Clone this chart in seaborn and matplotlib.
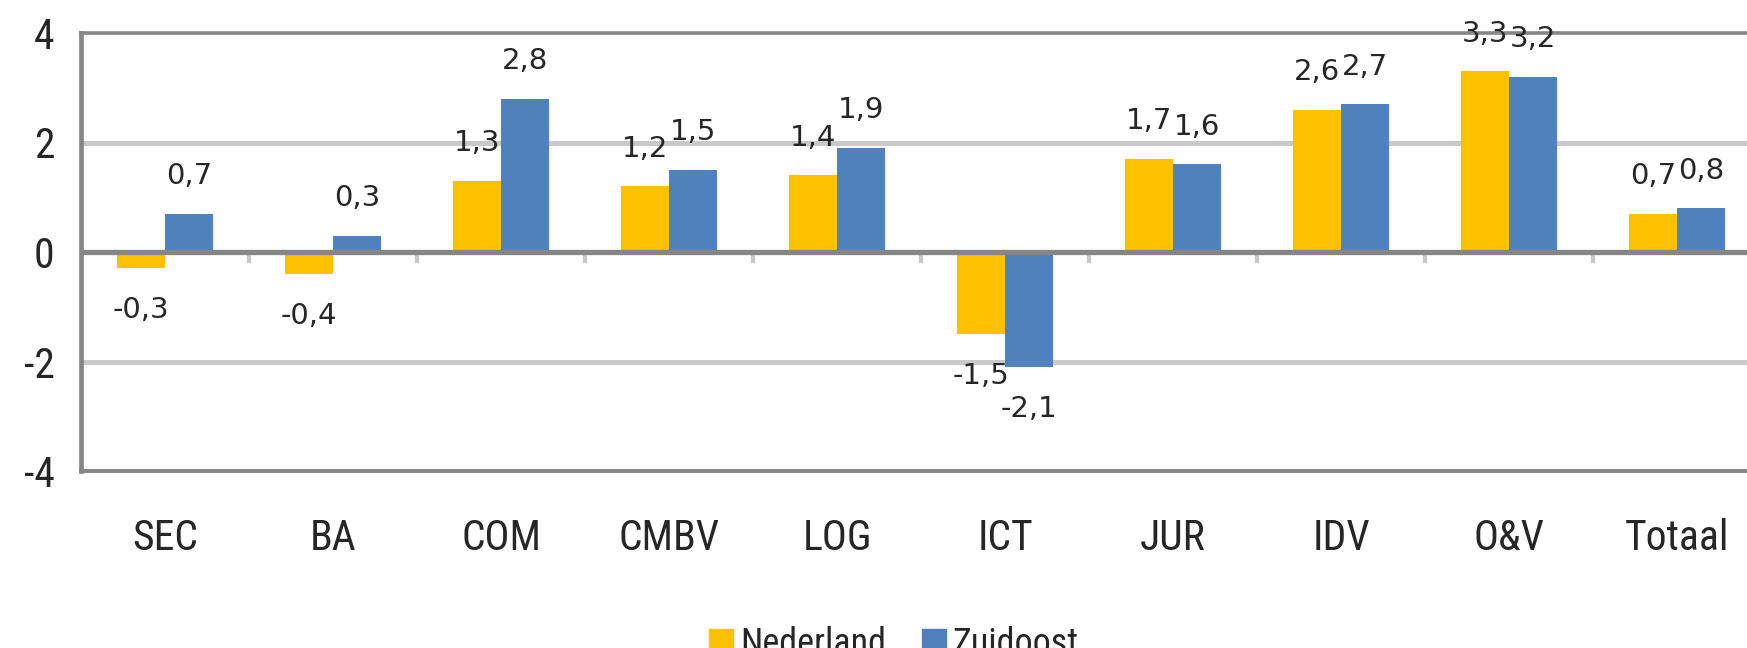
import numpy as np
import pandas as pd
import seaborn as sns
import matplotlib.pyplot as plt

categories = ['SEC', 'BA', 'COM', 'CMBV', 'LOG', 'ICT', 'JUR', 'IDV', 'O&V', 'Totaal']
nederland = [-0.3, -0.4, 1.3, 1.2, 1.4, -1.5, 1.7, 2.6, 3.3, 0.7]
zuidoost = [0.7, 0.3, 2.8, 1.5, 1.9, -2.1, 1.6, 2.7, 3.2, 0.8]
series = ['Nederland', 'Zuidoost']
colors = ['#FFC000', '#4F81BD']
yticks = [-4, -2, 0, 2, 4]

sns.set_style("white")
plt.rcParams['font.family'] = ['Roboto Condensed', 'DejaVu Sans']
plt.rcParams['axes.unicode_minus'] = False

df = pd.DataFrame({
    'cat': categories * 2,
    'value': nederland + zuidoost,
    'serie': [series[0]] * len(categories) + [series[1]] * len(categories),
})

dark = '#868686'
light = '#C9C9C9'

fig = plt.figure(figsize=(17.47, 6.48), dpi=100)
ax = fig.add_axes([81 / 1747, (648 - 471) / 648, 1680 / 1747, 438 / 648])

sns.barplot(data=df, x='cat', y='value', hue='serie', palette=colors,
            width=0.57, gap=0, saturation=1, legend=False, linewidth=0,
            ax=ax, zorder=3)

ax.set_ylim(-4, 4)
ax.set_xlim(-0.5, len(categories) - 0.5)
ax.set_yticks(yticks)
ax.set_yticklabels([str(t) for t in yticks])
ax.set_xlabel('')
ax.set_ylabel('')

# light gridlines at +/-2, dark line at zero
for t in yticks:
    if t in (-2, 2):
        ax.axhline(t, color=light, lw=3.6, zorder=1)
ax.axhline(0, color=dark, lw=3.8, zorder=4)

for side in ['top', 'bottom', 'left']:
    ax.spines[side].set_color(dark)
ax.spines['top'].set_linewidth(2.6)
ax.spines['bottom'].set_linewidth(2.8)
ax.spines['left'].set_linewidth(3.4)
ax.spines['right'].set_visible(False)

ax.tick_params(axis='y', length=9, width=3, color=dark, pad=10, labelsize=30)
ax.tick_params(axis='x', length=0, pad=34, labelsize=30)

# small separators between categories, hanging under the zero line
sec = ax.secondary_xaxis(0.5)
sec.set_alignment('bottom')
sec.set_xticks(np.arange(len(categories) - 1) + 0.5)
sec.set_xticklabels([])
sec.tick_params(axis='x', length=8, width=3, color=light, direction='out')
for s in sec.spines.values():
    s.set_visible(False)

# data labels with decimal comma
for cont, vals in zip(ax.containers, [nederland, zuidoost]):
    for bar, v in zip(cont, vals):
        x = bar.get_x() + bar.get_width() / 2
        off = 27 if v >= 0 else -30
        ax.annotate(f"{v:.1f}".replace('.', ','), (x, v), xytext=(0, off),
                    textcoords='offset points', ha='center', va='center',
                    fontsize=21, family='DejaVu Sans', zorder=5)

handles = [plt.Rectangle((0, 0), 1, 1, color=c) for c in colors]
fig.legend(handles, series, loc='upper center', bbox_to_anchor=(894 / 1747, 40 / 648),
           ncol=2, frameon=False, fontsize=26, handlelength=0.65, handleheight=0.65,
           handletextpad=0.2, columnspacing=1.0, borderpad=0)

fig.savefig('out.png', dpi=100)
